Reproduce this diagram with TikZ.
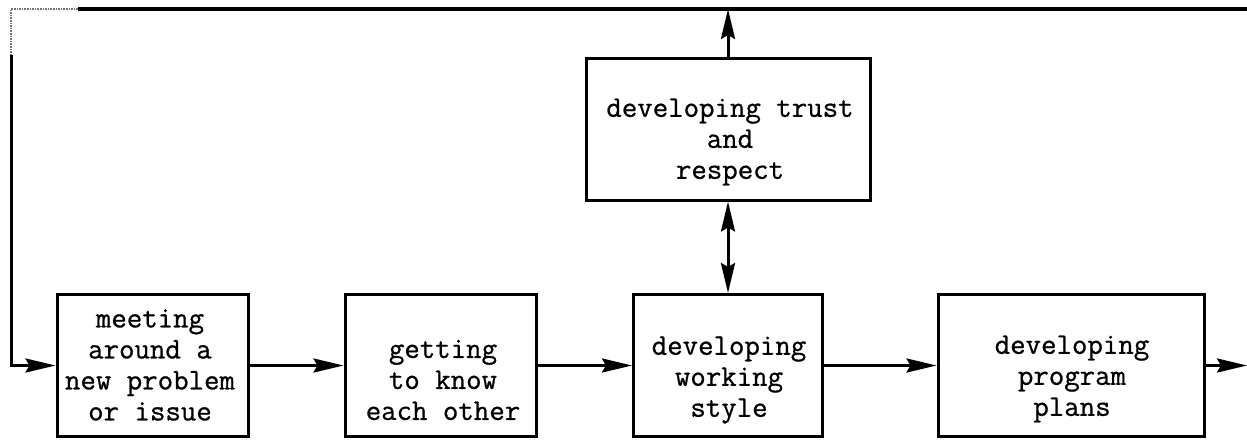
\documentclass[tikz,border=0pt]{standalone}
\usepackage{fontspec}
\setmonofont{Latin Modern Mono}[FakeBold=0.8]
\usetikzlibrary{arrows.meta}
\begin{document}
\begin{tikzpicture}[x=1pt,y=-1pt,
  >={Stealth[length=30pt,width=14pt,inset=4pt]},
  box/.style={draw, line width=3pt, minimum height=142pt, inner sep=0pt},
  lbl/.style={font=\ttfamily\fontsize{30}{31}\selectfont, align=center, inner sep=0pt},
  flow/.style={line width=3pt, ->},
  both/.style={line width=3pt, <->},
  wire/.style={line width=3.2pt},
  faded/.style={line width=1.6pt, densely dotted, black!55},
]
\useasboundingbox (0,0) rectangle (1247,439);

% process boxes
\node[box, minimum width=191pt] (b1) at (152.5,365.5) {};
\node[box, minimum width=191pt] (b2) at (440.5,365.5) {};
\node[box, minimum width=189pt] (b3) at (728,365.5) {};
\node[box, minimum width=284pt] (b4) at (728,129) {};
\node[box, minimum width=266pt] (b5) at (1071,365.5) {};

% box texts
\node[lbl] (t1) at (150,365) {meeting\\around a\\new problem\\or issue};
\node[lbl] (t2) at (443,380) {getting\\to know\\each other};
\node[lbl] (t3) at (729,380) {developing\\working\\style};
\node[lbl] (t4) at (730,142) {developing trust\\and\\respect};
\node[lbl] (t5) at (1072,379) {developing\\program\\plans};

% feedback loop coordinates
\coordinate (rtop) at (1247,9);
\coordinate (fade) at (78,9);
\coordinate (corner) at (11,9);
\coordinate (lfade) at (11,55);
\coordinate (low) at (11,365.5);
\coordinate (out) at (1247,365.5);
\coordinate (ttop) at (b4.north |- rtop);

% main chain
\draw[flow] (b1) -- (b2);
\draw[flow] (b2) -- (b3);
\draw[flow] (b3) -- (b5);
\draw[flow] (b5.east) -- (out);

% links to the trust box
\draw[both] (b4.south) -- (b3.north);
\draw[flow] (b4.north) -- (ttop);

% feedback loop
\draw[wire] (rtop) -- (fade);
\draw[faded] (fade) -- (corner) -- (lfade);
\draw[flow] (lfade) -- (low) -- (b1.west);
\end{tikzpicture}
\end{document}
